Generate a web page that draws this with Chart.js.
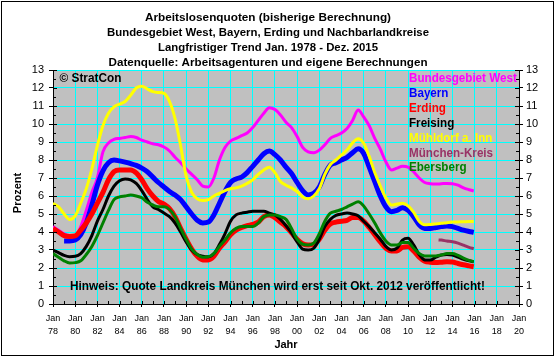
<!DOCTYPE html>
<html><head><meta charset="utf-8">
<script src="https://cdn.jsdelivr.net/npm/chart.js@4.4.0/dist/chart.umd.min.js"></script>
<style>html,body{margin:0;padding:0;background:#fff}canvas{display:block}</style>
</head><body>
<canvas id="c" width="556" height="358"></canvas>
<script>
const years = [
1978,1978.5,1979,1979.5,1980,1980.5,1981,1981.5,1982,1982.5,
1983,1983.5,1984,1984.5,1985,1985.5,1986,1986.5,1987,1987.5,
1988,1988.5,1989,1989.5,1990,1990.5,1991,1991.5,1992,1992.5,
1993,1993.5,1994,1994.5,1995,1995.5,1996,1996.5,1997,1997.5,
1998,1998.5,1999,1999.5,2000,2000.5,2001,2001.5,2002,2002.5,
2003,2003.5,2004,2004.5,2005,2005.5,2006,2006.5,2007,2007.5,
2008,2008.5,2009,2009.5,2010,2010.5,2011,2011.5,2012,2012.5,
2013,2013.5,2014,2014.5,2015,2015.5,2015.92];

const west = [
4.3,4.1,3.9,3.8,3.8,4.3,5.2,6.2,7.0,8.45,
8.95,9.15,9.2,9.25,9.3,9.25,9.1,9.0,8.9,8.85,
8.72,8.5,8.15,7.85,7.5,7.2,6.9,6.55,6.5,7.0,
8.0,8.7,9.05,9.2,9.35,9.5,9.8,10.2,10.6,10.9,
10.8,10.5,10.1,9.8,9.3,8.7,8.45,8.4,8.55,8.85,
9.2,9.35,9.5,9.75,10.2,10.78,10.4,9.9,9.2,8.6,
7.9,7.45,7.55,7.65,7.6,7.35,7.0,6.75,6.68,6.66,
6.68,6.7,6.68,6.6,6.45,6.35,6.28];

const bayern = [
null,null,3.5,3.5,3.55,3.85,4.5,5.5,6.6,7.4,
7.85,8.0,7.95,7.88,7.8,7.7,7.55,7.35,7.05,6.75,
6.5,6.25,6.05,5.8,5.4,5.0,4.65,4.5,4.55,4.95,
5.6,6.25,6.75,6.95,7.05,7.3,7.65,8.0,8.35,8.5,
8.3,8.0,7.6,7.25,6.75,6.3,6.06,6.15,6.5,7.2,
7.72,7.85,8.0,8.15,8.4,8.62,8.37,7.6,6.8,6.0,
5.4,5.13,5.2,5.35,5.2,4.85,4.4,4.2,4.2,4.25,
4.3,4.33,4.3,4.2,4.1,4.03,3.98];

const erding = [
4.2,4.0,3.8,3.75,3.78,4.1,4.5,5.0,5.6,6.2,
6.9,7.35,7.45,7.45,7.45,7.28,6.9,6.4,6.0,5.7,
5.55,5.3,4.85,4.2,3.6,3.05,2.65,2.45,2.45,2.65,
3.1,3.45,3.85,4.1,4.25,4.35,4.42,4.55,4.85,4.95,
4.8,4.55,4.3,3.95,3.6,3.35,3.28,3.3,3.6,4.1,
4.45,4.55,4.6,4.65,4.8,4.8,4.6,4.25,3.85,3.45,
3.1,2.95,2.95,3.15,3.18,2.95,2.6,2.38,2.32,2.3,
2.32,2.35,2.33,2.25,2.18,2.12,2.07];

const freising = [
3.0,2.85,2.7,2.63,2.65,2.8,3.2,3.8,4.6,5.25,
6.0,6.55,6.85,6.95,6.9,6.7,6.3,5.8,5.4,5.25,
5.05,4.85,4.5,4.0,3.45,3.0,2.75,2.65,2.62,2.8,
3.3,3.9,4.6,4.95,5.05,5.1,5.15,5.15,5.15,5.05,
4.95,4.7,4.35,3.95,3.45,3.05,3.0,3.1,3.6,4.3,
4.7,4.92,5.0,5.05,5.0,4.9,4.6,4.3,3.95,3.6,
3.2,3.0,3.1,3.55,3.65,3.28,2.75,2.45,2.44,2.6,
2.72,2.75,2.72,2.6,2.48,2.4,2.35];

const muehldorf = [
5.6,5.4,5.0,4.7,4.9,5.6,6.4,7.5,8.8,9.9,
10.6,10.95,11.1,11.25,11.6,12.0,12.1,11.95,11.8,11.75,
11.7,11.25,10.3,8.8,7.1,6.2,5.85,5.75,5.8,6.0,
6.15,6.3,6.4,6.45,6.55,6.7,6.9,7.2,7.45,7.6,
7.3,6.8,6.6,6.45,6.25,5.95,5.85,6.0,6.4,7.2,
7.75,8.0,8.28,8.55,8.95,9.18,8.93,8.2,7.3,6.55,
5.9,5.5,5.55,5.6,5.45,5.1,4.6,4.4,4.42,4.45,
4.48,4.52,4.55,4.56,4.57,4.58,4.58];

const ebersberg = [
2.8,2.6,2.4,2.28,2.3,2.4,2.75,3.2,3.8,4.5,
5.2,5.8,5.95,6.0,6.05,6.0,5.9,5.65,5.5,5.4,
5.4,5.25,4.85,4.2,3.6,3.05,2.75,2.6,2.62,2.8,
3.2,3.55,3.95,4.2,4.3,4.3,4.3,4.5,4.85,4.95,
4.95,4.85,4.7,4.2,3.6,3.32,3.28,3.38,3.9,4.6,
5.05,5.15,5.25,5.4,5.55,5.68,5.45,5.0,4.5,3.95,
3.5,3.28,3.28,3.42,3.42,3.1,2.8,2.67,2.66,2.67,
2.72,2.8,2.8,2.7,2.55,2.42,2.35];

const muenchenYears = [2012.75,2013,2013.5,2014,2014.5,2015,2015.5,2015.92];
const muenchen = [3.56,3.55,3.5,3.46,3.38,3.27,3.15,3.07];

const seriesNames = ['Bundesgebiet West','Bayern','Erding','Freising','Mühldorf a. Inn','München-Kreis','Ebersberg'];
const seriesColors = ['#FF00FF','#0000FF','#FF0000','#000000','#FFFF00','#993366','#008000'];
const seriesWidths = [3,5,5,3,3,3,3];
const titleLines = ['Arbeitslosenquoten (bisherige Berechnung)','Bundesgebiet West, Bayern, Erding und Nachbarlandkreise','Langfristiger Trend Jan. 1978 - Dez. 2015','Datenquelle: Arbeitsagenturen und eigene Berechnungen'];
const noteText = 'Hinweis: Quote Landkreis München wird erst seit Okt. 2012 veröffentlicht!';
const copyrightText = '© StratCon';

function pts(xs, ys){ return xs.map((x,i)=>({x:x, y:ys[i]})); }
const seriesData = [
  pts(years, west), pts(years, bayern), pts(years, erding), pts(years, freising),
  pts(years, muehldorf), pts(muenchenYears, muenchen), pts(years, ebersberg)
];

const datasets = seriesNames.map((n,i)=>({
  label:n, data:seriesData[i], borderColor:seriesColors[i], backgroundColor:seriesColors[i],
  borderWidth:seriesWidths[i], pointRadius:0, fill:false, cubicInterpolationMode:'monotone',
  borderJoinStyle:'round', order: seriesNames.length - i
}));

function fitText(ctx, text, x, y, w, align){
  const m = ctx.measureText(text).width;
  ctx.save();
  ctx.translate(x, y);
  ctx.scale(w/m, 1);
  ctx.textAlign = align;
  ctx.fillText(text, 0, 0);
  ctx.restore();
}

const deco = {
  id:'deco',
  beforeDraw(chart){
    const {ctx, chartArea:a} = chart;
    ctx.save();
    ctx.fillStyle='#FFFFFF'; ctx.fillRect(0,0,chart.width,chart.height);
    ctx.fillStyle='#C0C0C0'; ctx.fillRect(a.left,a.top,a.right-a.left,a.bottom-a.top);
    ctx.restore();
  },
  afterDraw(chart){
    const {ctx, chartArea:a, scales} = chart;
    const xs = scales.x, ys = scales.y;
    ctx.save();
    ctx.strokeStyle='#000'; ctx.lineWidth=1;
    ctx.beginPath();
    for (let v=1978; v<=2020; v++){
      const px = Math.round(xs.getPixelForValue(v))+0.5;
      ctx.moveTo(px, a.bottom); ctx.lineTo(px, a.bottom-3);
    }
    for (let v=0; v<=13; v+=0.5){
      const py = Math.round(ys.getPixelForValue(v))+0.5;
      const len = (v%1===0)?4:3;
      ctx.moveTo(a.left, py); ctx.lineTo(a.left+len, py);
      ctx.moveTo(a.right, py); ctx.lineTo(a.right-len, py);
    }
    ctx.stroke();
    ctx.strokeRect(1.5,1.5,552,354);
    ctx.fillStyle='#000';
    ctx.font='bold 11px "Liberation Sans", Arial, sans-serif';
    ctx.textBaseline='alphabetic';
    const tw=[246,322,220,319], tb=[20.5,35.5,50.5,65.5];
    titleLines.forEach((t,i)=>fitText(ctx,t,268,tb[i],tw[i],'center'));
    ctx.font='bold 12px "Liberation Sans", Arial, sans-serif';
    fitText(ctx, copyrightText, 59.5, 82, 62, 'left');
    seriesNames.forEach((n,i)=>{
      ctx.fillStyle=seriesColors[i];
      const m = ctx.measureText(n).width;
      fitText(ctx, n, 409, 82+i*14.9, m*0.97, 'left');
    });
    ctx.fillStyle='#000';
    ctx.font='bold 13px "Liberation Sans", Arial, sans-serif';
    fitText(ctx, noteText, 70, 290, 415, 'left');
    ctx.font='bold 11px "Liberation Sans", Arial, sans-serif';
    ctx.textAlign='center';
    ctx.fillText('Jahr', (a.left+a.right)/2, 348);
    ctx.save();
    ctx.translate(21, (a.top+a.bottom)/2 + 6);
    ctx.rotate(-Math.PI/2);
    ctx.fillText('Prozent', 0, 0);
    ctx.restore();
    ctx.restore();
  }
};

const cyan = '#00FFFF';
new Chart(document.getElementById('c'), {
  type:'line',
  data:{datasets:datasets},
  plugins:[deco],
  options:{
    responsive:false, animation:false, devicePixelRatio:1,
    layout:{padding:{top:70,left:0,right:0,bottom:0}},
    plugins:{legend:{display:false}, tooltip:{enabled:false}, title:{display:false}},
    scales:{
      x:{type:'linear', min:1978, max:2020,
        afterFit(s){ s.height = 54; },
        ticks:{stepSize:2, autoSkip:false, maxRotation:0, minRotation:0, padding:5, color:'#000',
          font:{family:'"Liberation Sans", Arial, sans-serif', size:9, lineHeight:13/9},
          callback:(v)=>['Jan', String(v%100).padStart(2,'0')]},
        grid:{color:(c)=> (c.tick && (c.tick.value===1978)) ? 'rgba(0,0,0,0)' : cyan, lineWidth:1, tickColor:'#000', tickLength:3},
        border:{color:'#000', width:1}
      },
      y:{type:'linear', position:'left', min:0, max:13,
        afterFit(s){ s.width = 53; },
        ticks:{stepSize:1, padding:5, color:'#000', font:{family:'"Liberation Sans", Arial, sans-serif', size:11}},
        grid:{color:cyan, lineWidth:1, tickColor:'#000', tickLength:4},
        border:{color:'#000', width:1}
      },
      y2:{type:'linear', position:'right', min:0, max:13,
        afterFit(s){ s.width = 37; },
        ticks:{stepSize:1, padding:3, color:'#000', font:{family:'"Liberation Sans", Arial, sans-serif', size:11}},
        grid:{drawOnChartArea:false, tickColor:'#000', tickLength:4},
        border:{color:'#000', width:1}
      }
    }
  }
});
</script>
</body></html>
